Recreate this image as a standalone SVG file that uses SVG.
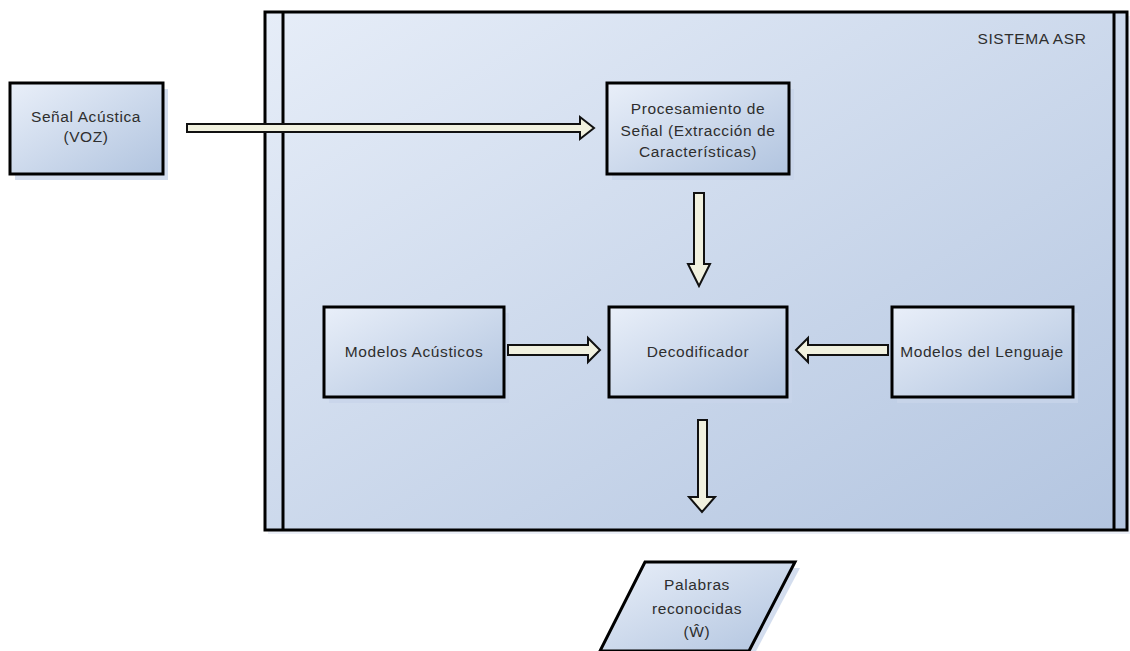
<svg xmlns="http://www.w3.org/2000/svg" width="1130" height="651" viewBox="0 0 1130 651">
  <defs>
    <linearGradient id="gCont" x1="0" y1="0" x2="1" y2="1">
      <stop offset="0" stop-color="#e6edf8"/>
      <stop offset="1" stop-color="#b3c5e0"/>
    </linearGradient>
    <linearGradient id="gBox" x1="0" y1="0" x2="1" y2="1">
      <stop offset="0" stop-color="#e9eff9"/>
      <stop offset="1" stop-color="#b1c4df"/>
    </linearGradient>
  </defs>
  <style>
    .box { fill: url(#gBox); stroke: #000; stroke-width: 3; }
    .shadow { fill: #c8d5ea; opacity: 0.8; }
    .arrow { fill: #f1f1df; stroke: #111; stroke-width: 2; stroke-linejoin: miter; }
    .t { font-family: "Liberation Sans", Arial, sans-serif; font-size: 15.5px; letter-spacing: 0.6px; fill: #2e2e2e; text-anchor: middle; }
  </style>

  <g id="sistema-asr">
    <rect x="268" y="16" width="862" height="518" fill="#dde5f1" opacity="0.6"/>
    <rect x="265" y="12" width="862" height="518" fill="url(#gCont)" stroke="#000" stroke-width="3"/>
    <line x1="283" y1="12" x2="283" y2="530" stroke="#000" stroke-width="3"/>
    <line x1="1114" y1="12" x2="1114" y2="530" stroke="#000" stroke-width="3"/>
    <text class="t" x="1032" y="44">SISTEMA ASR</text>
  </g>

  <g id="senal-acustica">
    <rect class="shadow" x="15" y="89" width="153" height="91"/>
    <rect class="box" x="10" y="83" width="153" height="91"/>
    <text class="t" x="86" y="122">Señal Acústica</text>
    <text class="t" x="86" y="142">(VOZ)</text>
  </g>

  <g id="procesamiento">
    <rect class="shadow" x="612" y="89" width="182" height="91"/>
    <rect class="box" x="607" y="83" width="182" height="91"/>
    <text class="t" x="698" y="114">Procesamiento de</text>
    <text class="t" x="698" y="136">Señal (Extracción de</text>
    <text class="t" x="698" y="157">Características)</text>
  </g>

  <g id="modelos-acusticos">
    <rect class="shadow" x="329" y="313" width="180" height="90"/>
    <rect class="box" x="324" y="307" width="180" height="90"/>
    <text class="t" x="414" y="357">Modelos Acústicos</text>
  </g>

  <g id="decodificador">
    <rect class="shadow" x="614" y="313" width="178" height="90"/>
    <rect class="box" x="609" y="307" width="178" height="90"/>
    <text class="t" x="698" y="357">Decodificador</text>
  </g>

  <g id="modelos-lenguaje">
    <rect class="shadow" x="897" y="313" width="181" height="90"/>
    <rect class="box" x="892" y="307" width="181" height="90"/>
    <text class="t" x="982" y="357">Modelos del Lenguaje</text>
  </g>

  <g id="palabras">
    <polygon class="shadow" points="651,568 800,568 754,655 605,655"/>
    <polygon class="box" points="645,562 795,562 749,651 600,651"/>
    <text class="t" x="697" y="590">Palabras</text>
    <text class="t" x="697" y="614">reconocidas</text>
    <text class="t" x="697" y="637">(Ŵ)</text>
  </g>

  <g id="connectors">
    <polygon class="arrow" points="187,124 580,124 580,117 594,128 580,139 580,132 187,132"/>
    <polygon class="arrow" points="694,193 704,193 704,264 710,264 699,286 688,264 694,264"/>
    <polygon class="arrow" points="508,345 588,345 588,338 600,350 588,362 588,355 508,355"/>
    <polygon class="arrow" points="888,345 808,345 808,338 796,350 808,362 808,355 888,355"/>
    <polygon class="arrow" points="698,420 707,420 707,497 715,497 702,512 689,497 698,497"/>
  </g>
</svg>
